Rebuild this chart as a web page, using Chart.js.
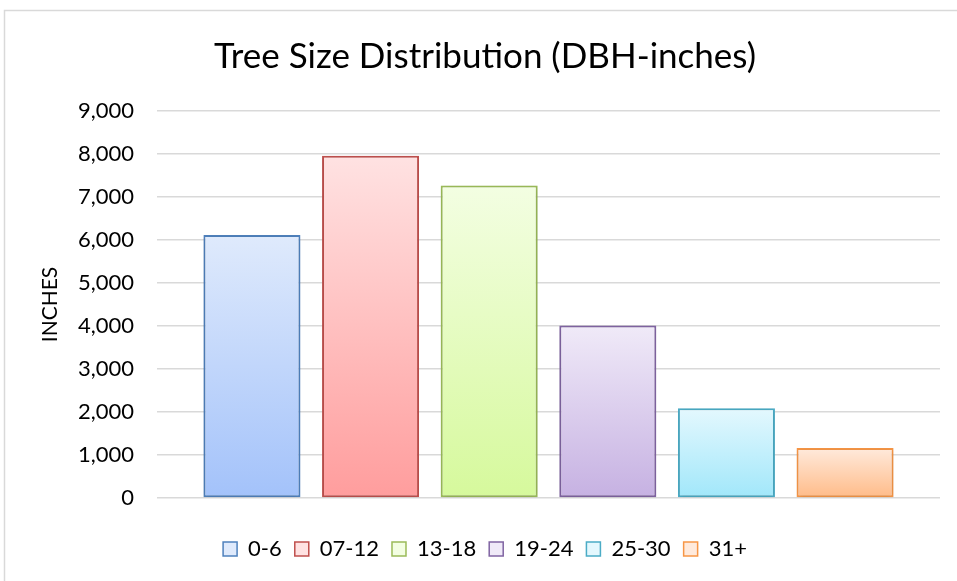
<!DOCTYPE html>
<html>
<head>
<meta charset="utf-8">
<script src="https://cdn.jsdelivr.net/npm/chart.js@4.4.1/dist/chart.umd.min.js"></script>
<style>
  html, body { margin: 0; padding: 0; background: #ffffff; }
  #wrap { position: relative; width: 957px; height: 581px; }
</style>
</head>
<body>
<div id="wrap"><canvas id="treeSizeChart" width="957" height="581"></canvas></div>
<script>
    const sizeData = {
        labels: ['0-6', '07-12', '13-18', '19-24', '25-30', '31+'],
        data: [6115, 7960, 7265, 4010, 2090, 1165]
    };

    // top / bottom of the gradient fill, outline colour
    const barColors = [
        { top: '#dfeafc', bottom: '#a3c2fa', border: '#4f81bd' },
        { top: '#ffe2e2', bottom: '#ff9d9d', border: '#c0504d' },
        { top: '#f3fee2', bottom: '#d6f99c', border: '#9bbb59' },
        { top: '#f0eaf8', bottom: '#c6b1e2', border: '#8064a2' },
        { top: '#e4f8fe', bottom: '#a1e7fa', border: '#4bacc6' },
        { top: '#ffeadc', bottom: '#ffbb88', border: '#f79646' }
    ];

    const fontFamily = 'Lato, "Open Sans", sans-serif';

    const gradientFill = (index) => (context) => {
        const chart = context.chart;
        const yScale = chart.scales.y;
        if (!chart.chartArea || !yScale) {
            return barColors[index].bottom;
        }
        const top = yScale.getPixelForValue(sizeData.data[index]);
        const base = yScale.getPixelForValue(0);
        const gradient = chart.ctx.createLinearGradient(0, top, 0, base);
        gradient.addColorStop(0, barColors[index].top);
        gradient.addColorStop(1, barColors[index].bottom);
        return gradient;
    };

    const frameAndShadow = {
        id: 'frameAndShadow',
        beforeDraw(chart) {
            const ctx = chart.ctx;
            ctx.save();
            ctx.strokeStyle = '#d9d9d9';
            ctx.lineWidth = 1.5;
            ctx.strokeRect(4.5, 10.5, 1200, 1200);
            ctx.restore();
        },
        beforeDatasetsDraw(chart) {
            const ctx = chart.ctx;
            ctx.save();
            ctx.shadowColor = 'rgba(0, 0, 0, 0.16)';
            ctx.shadowBlur = 5;
            ctx.shadowOffsetX = 0;
            ctx.shadowOffsetY = 1;
        },
        afterDatasetsDraw(chart) {
            chart.ctx.restore();
        }
    };

    const datasets = sizeData.labels.map((label, index) => ({
        label: label,
        data: [sizeData.data[index]],
        backgroundColor: gradientFill(index),
        borderColor: barColors[index].border,
        borderWidth: 2,
        borderSkipped: false
    }));

    new Chart(document.getElementById('treeSizeChart').getContext('2d'), {
        type: 'bar',
        data: {
            labels: [''],
            datasets: datasets
        },
        plugins: [frameAndShadow],
        options: {
            responsive: false,
            animation: false,
            categoryPercentage: 0.909,
            barPercentage: 0.818,
            layout: {
                padding: { top: 10, left: 30, right: 17, bottom: 11 }
            },
            scales: {
                x: {
                    display: true,
                    grid: { display: false },
                    border: { display: false },
                    ticks: { display: false },
                    afterFit: (scale) => { scale.height = 27; }
                },
                y: {
                    min: 0,
                    max: 9000,
                    border: { display: false },
                    grid: {
                        color: '#d9d9d9',
                        lineWidth: 1.5,
                        drawTicks: false
                    },
                    ticks: {
                        stepSize: 1000,
                        padding: 23,
                        color: '#000000',
                        font: { family: fontFamily, size: 22 },
                        callback: (value) => value.toLocaleString('en-US')
                    },
                    title: {
                        display: true,
                        text: 'INCHES',
                        color: '#000000',
                        font: { family: fontFamily, size: 21 },
                        padding: { top: 8, bottom: 0 }
                    },
                    afterFit: (scale) => { scale.width = 127; }
                }
            },
            plugins: {
                title: {
                    display: true,
                    text: 'Tree Size Distribution (DBH-inches)',
                    color: '#000000',
                    font: { family: fontFamily, size: 35, weight: 'normal' },
                    padding: { top: 26, bottom: 33 }
                },
                legend: {
                    display: true,
                    position: 'bottom',
                    labels: {
                        color: '#000000',
                        font: { family: fontFamily, size: 22 },
                        boxWidth: 14,
                        boxHeight: 14,
                        padding: 13,
                        generateLabels: (chart) => chart.data.datasets.map((ds, index) => ({
                            text: ds.label,
                            fillStyle: barColors[index].top,
                            strokeStyle: barColors[index].border,
                            lineWidth: 1.5,
                            hidden: false,
                            datasetIndex: index,
                            fontColor: '#000000'
                        }))
                    }
                },
                tooltip: { enabled: false }
            }
        }
    });
</script>
</body>
</html>
